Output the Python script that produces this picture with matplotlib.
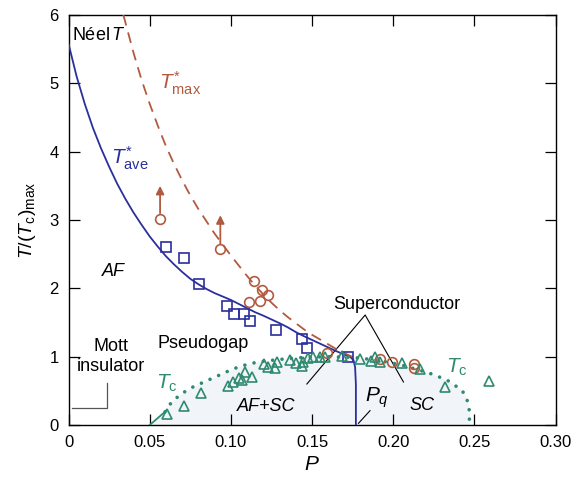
import matplotlib
matplotlib.use("Agg")
import matplotlib.pyplot as plt

plt.rcParams['font.family'] = ['Liberation Sans', 'DejaVu Sans']
plt.rcParams['mathtext.fontset'] = 'custom'
plt.rcParams['mathtext.rm'] = 'Liberation Sans'
plt.rcParams['mathtext.it'] = 'Liberation Sans:italic'
plt.rcParams['mathtext.bf'] = 'Liberation Sans:bold'

BLUE = '#2b2f9c'
RED = '#b25a3e'
GREEN = '#2f8a70'

# ---- data ----
# T*_ave (solid blue line)
tave_p = [0.000, 0.005, 0.010, 0.015, 0.020, 0.025, 0.030, 0.035, 0.040, 0.045,
          0.050, 0.055, 0.060, 0.065, 0.070, 0.075, 0.080, 0.085, 0.090, 0.095,
          0.100, 0.105, 0.110, 0.115, 0.120, 0.125, 0.130, 0.135, 0.140, 0.145,
          0.150, 0.155, 0.160, 0.165, 0.170, 0.1734, 0.1755, 0.1765, 0.177, 0.177]
tave_t = [5.58, 5.10, 4.70, 4.35, 4.05, 3.78, 3.53, 3.31, 3.11, 2.93,
          2.76, 2.61, 2.47, 2.35, 2.24, 2.14, 2.06, 1.99, 1.93, 1.88,
          1.83, 1.77, 1.71, 1.65, 1.60, 1.545, 1.49, 1.43, 1.36, 1.30,
          1.245, 1.19, 1.135, 1.08, 1.03, 1.00, 0.95, 0.85, 0.60, 0.00]

# T*_max (dashed red line)
tmax_p = [0.0338, 0.040, 0.045, 0.050, 0.055, 0.060, 0.065, 0.070, 0.075, 0.080,
          0.085, 0.090, 0.095, 0.100, 0.105, 0.110, 0.115, 0.120, 0.125, 0.130,
          0.135, 0.140, 0.145, 0.150, 0.155, 0.160, 0.165, 0.170, 0.1755]
tmax_t = [6.00, 5.45, 5.05, 4.70, 4.38, 4.08, 3.82, 3.58, 3.36, 3.16,
          2.98, 2.80, 2.64, 2.48, 2.33, 2.18, 2.04, 1.91, 1.79, 1.68,
          1.58, 1.49, 1.40, 1.32, 1.25, 1.18, 1.11, 1.05, 0.99]

# Tc dome (dotted green)
tc_p = [0.0595, 0.0636, 0.0697, 0.0769, 0.0882, 0.0975, 0.1057, 0.117, 0.130, 0.145,
        0.160, 0.175, 0.190, 0.205, 0.215, 0.2227, 0.233, 0.2423, 0.2453, 0.2468, 0.247]
tc_t = [0.195, 0.34, 0.46, 0.56, 0.68, 0.78, 0.86, 0.925, 0.96, 0.99,
        1.00, 0.99, 0.95, 0.88, 0.81, 0.755, 0.66, 0.51, 0.39, 0.22, 0.0]
tc_start_p = [0.050, 0.0595]
tc_start_t = [0.0, 0.195]

# open squares (blue)
sq_p = [0.060, 0.071, 0.0806, 0.0977, 0.102, 0.108, 0.112, 0.128, 0.144, 0.147, 0.1724]
sq_t = [2.61, 2.45, 2.07, 1.74, 1.63, 1.63, 1.52, 1.39, 1.26, 1.12, 1.00]

# open circles (red); first two are lower bounds with arrows
circ_p = [0.0564, 0.0935, 0.114, 0.119, 0.123, 0.111, 0.118, 0.159, 0.192, 0.199, 0.2125, 0.2125]
circ_t = [3.02, 2.57, 2.11, 1.98, 1.90, 1.80, 1.82, 1.05, 0.96, 0.925, 0.90, 0.84]
arrow_p = [0.0564, 0.0935]
arrow_t0 = [3.02, 2.57]
arrow_t1 = [3.50, 3.07]

# open triangles (green)
tri_p = [0.0604, 0.0709, 0.0816, 0.0983, 0.1014, 0.1050, 0.1087, 0.1128, 0.1069, 0.1205,
         0.1229, 0.1282, 0.1272, 0.1365, 0.1402, 0.1439, 0.1447, 0.1476, 0.1508, 0.1550,
         0.1580, 0.1683, 0.1793, 0.1864, 0.1888, 0.1919, 0.2055, 0.2166, 0.2317, 0.2591]
tri_t = [0.154, 0.285, 0.463, 0.570, 0.636, 0.694, 0.775, 0.709, 0.658, 0.899,
         0.855, 0.928, 0.841, 0.950, 0.914, 0.863, 0.921, 0.980, 0.998, 1.001,
         0.990, 1.009, 0.960, 0.943, 0.994, 0.925, 0.906, 0.819, 0.560, 0.648]

xticks = [0, 0.05, 0.10, 0.15, 0.20, 0.25, 0.30]
xticklabels = ['0', '0.05', '0.10', '0.15', '0.20', '0.25', '0.30']
yticks = [0, 1, 2, 3, 4, 5, 6]

fig = plt.figure(figsize=(5.71, 4.79), dpi=100)
ax = fig.add_axes([0.12, 0.1127, 0.853, 0.856])

# shaded superconducting dome
ax.fill_between(tc_start_p + tc_p[1:], tc_start_t + tc_t[1:], 0, color='#f1f4f8', lw=0, zorder=0)

ax.plot(tave_p, tave_t, color=BLUE, lw=1.3, zorder=3)
ax.plot(tmax_p, tmax_t, color=RED, lw=1.3, ls=(0, (6, 4)), zorder=3)
ax.plot(tc_start_p, tc_start_t, color=GREEN, lw=1.3, zorder=3)
ax.plot(tc_p, tc_t, color=GREEN, lw=2.6, ls=(0, (0.01, 2.6)), dash_capstyle='round', zorder=3)

ax.plot(sq_p, sq_t, ls='none', marker='s', ms=6.5, mfc='none', mec=BLUE, mew=1.2, zorder=4)
ax.plot(circ_p, circ_t, ls='none', marker='o', ms=7, mfc='none', mec=RED, mew=1.2, zorder=4)
ax.plot(tri_p, tri_t, ls='none', marker='^', ms=7, mfc='none', mec=GREEN, mew=1.2, zorder=4)

for p, t0, t1 in zip(arrow_p, arrow_t0, arrow_t1):
    ax.annotate('', xy=(p, t1), xytext=(p, t0 + 0.08),
                arrowprops=dict(arrowstyle='-|>', color=RED, lw=1.3,
                                mutation_scale=12, shrinkA=0, shrinkB=0))

# labels on the chart
ax.text(0.002, 5.70, r'Néel$\,T$', fontsize=13, ha='left', va='center')
ax.text(0.0555, 5.0, r'$T^{*}_{\rm max}$', fontsize=15, color=RED, ha='left', va='center')
ax.text(0.026, 3.9, r'$T^{*}_{\rm ave}$', fontsize=15, color=BLUE, ha='left', va='center')
ax.text(0.0276, 2.24, 'AF', fontsize=13, style='italic', ha='center', va='center')
ax.text(0.026, 1.0, 'Mott\ninsulator', fontsize=13, ha='center', va='center', linespacing=1.25)
ax.plot([0.002, 0.024, 0.024], [0.245, 0.245, 0.61], color='#555555', lw=0.9)
ax.text(0.083, 1.20, 'Pseudogap', fontsize=13, ha='center', va='center')
ax.text(0.0605, 0.61, r'$T_{\rm c}$', fontsize=15, color=GREEN, ha='center', va='center')
ax.text(0.239, 0.85, r'$T_{\rm c}$', fontsize=15, color=GREEN, ha='center', va='center')
ax.text(0.122, 0.27, 'AF+SC', fontsize=13, style='italic', ha='center', va='center')
ax.text(0.218, 0.28, 'SC', fontsize=13, style='italic', ha='center', va='center')
ax.text(0.190, 0.40, r'$P_q$', fontsize=15, ha='center', va='center')
ax.plot([0.1857, 0.1786], [0.21, 0.025], color='black', lw=0.8)
ax.text(0.202, 1.77, 'Superconductor', fontsize=13, ha='center', va='center')
ax.plot([0.1468, 0.1827, 0.2063], [0.60, 1.61, 0.63], color='black', lw=0.8)

ax.set_xlim(0, 0.30)
ax.set_ylim(0, 6)
ax.set_xticks(xticks)
ax.set_xticklabels(xticklabels)
ax.set_yticks(yticks)
ax.tick_params(direction='in', length=8, width=0.9, top=True, right=True, labelsize=12, pad=7)
for s in ax.spines.values():
    s.set_linewidth(1.0)

ax.set_xlabel(r'$P$', fontsize=15, labelpad=4)
ax.set_ylabel(r'$T/(T_{\rm c})_{\rm max}$', fontsize=14, labelpad=8)

fig.savefig('out.png', dpi=100)
